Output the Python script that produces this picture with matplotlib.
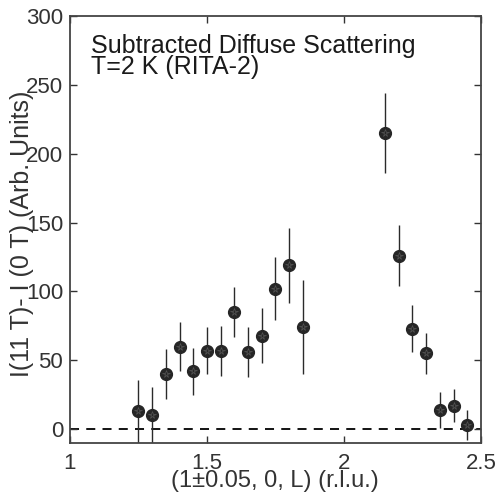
import matplotlib
matplotlib.use("Agg")
import matplotlib.pyplot as plt
import numpy as np

plt.rcParams['font.family'] = ['Liberation Sans', 'DejaVu Sans']

L = [1.25, 1.30, 1.35, 1.40, 1.45, 1.50, 1.55, 1.60, 1.65, 1.70, 1.75, 1.80, 1.85,
     2.15, 2.20, 2.25, 2.30, 2.35, 2.40, 2.45]
intensity = [13, 10, 40, 60, 42, 57, 57, 85, 56, 68, 102, 119, 74,
             215, 126, 73, 55, 14, 17, 3]
err = [23, 21, 18, 18, 17, 17, 18, 18, 18, 20, 23, 27, 34,
       29, 22, 17, 15, 13, 12, 11]
xticks = [1, 1.5, 2, 2.5]
xticklabels = ['1', '1.5', '2', '2.5']
yticks = [0, 50, 100, 150, 200, 250, 300]

fig = plt.figure(figsize=(4.97, 4.94), dpi=100)
ax = fig.add_axes([0.1408, 0.1032, 0.8270, 0.8644])

ax.axhline(0, color='black', lw=1.3, ls=(0, (5, 4)), zorder=1)
ax.errorbar(L, intensity, yerr=err, fmt='none', ecolor='#2a2a2a', elinewidth=1.0, capsize=0, zorder=2)
ax.plot(L, intensity, 'o', ms=8.5, mfc='#262626', mec='#262626', zorder=3)
ax.plot(L, intensity, '*', ms=5.5, mfc='none', mec='#555555', mew=0.5, zorder=4)

ax.set_xlim(1, 2.5)
ax.set_ylim(-10, 300)
ax.set_xticks(xticks)
ax.set_xticklabels(xticklabels)
ax.set_yticks(yticks)
ax.tick_params(direction='in', top=True, right=True, length=5, width=1.0,
               labelsize=16, colors='#333333', labelcolor='#333333')
ax.tick_params(axis='x', pad=7)
ax.tick_params(axis='y', pad=5)
for s in ax.spines.values():
    s.set_color('#444444')
    s.set_linewidth(1.3)

ax.set_xlabel('(1\u00b10.05, 0, L) (r.l.u.)', fontsize=17, color='#333333')
ax.set_ylabel('I(11 T)- I (0 T) (Arb. Units)', fontsize=18, color='#333333')
ax.xaxis.set_label_coords(0.499, -0.089)
ax.xaxis.label.set_verticalalignment('center')
ax.yaxis.set_label_coords(-0.117, 0.49)
ax.yaxis.label.set_verticalalignment('center')

ax.text(0.05, 0.958, 'Subtracted Diffuse Scattering\nT=2 K (RITA-2)', transform=ax.transAxes,
        ha='left', va='top', fontsize=18, color='#1a1a1a', linespacing=0.85)

fig.savefig('out.png', dpi=100)
